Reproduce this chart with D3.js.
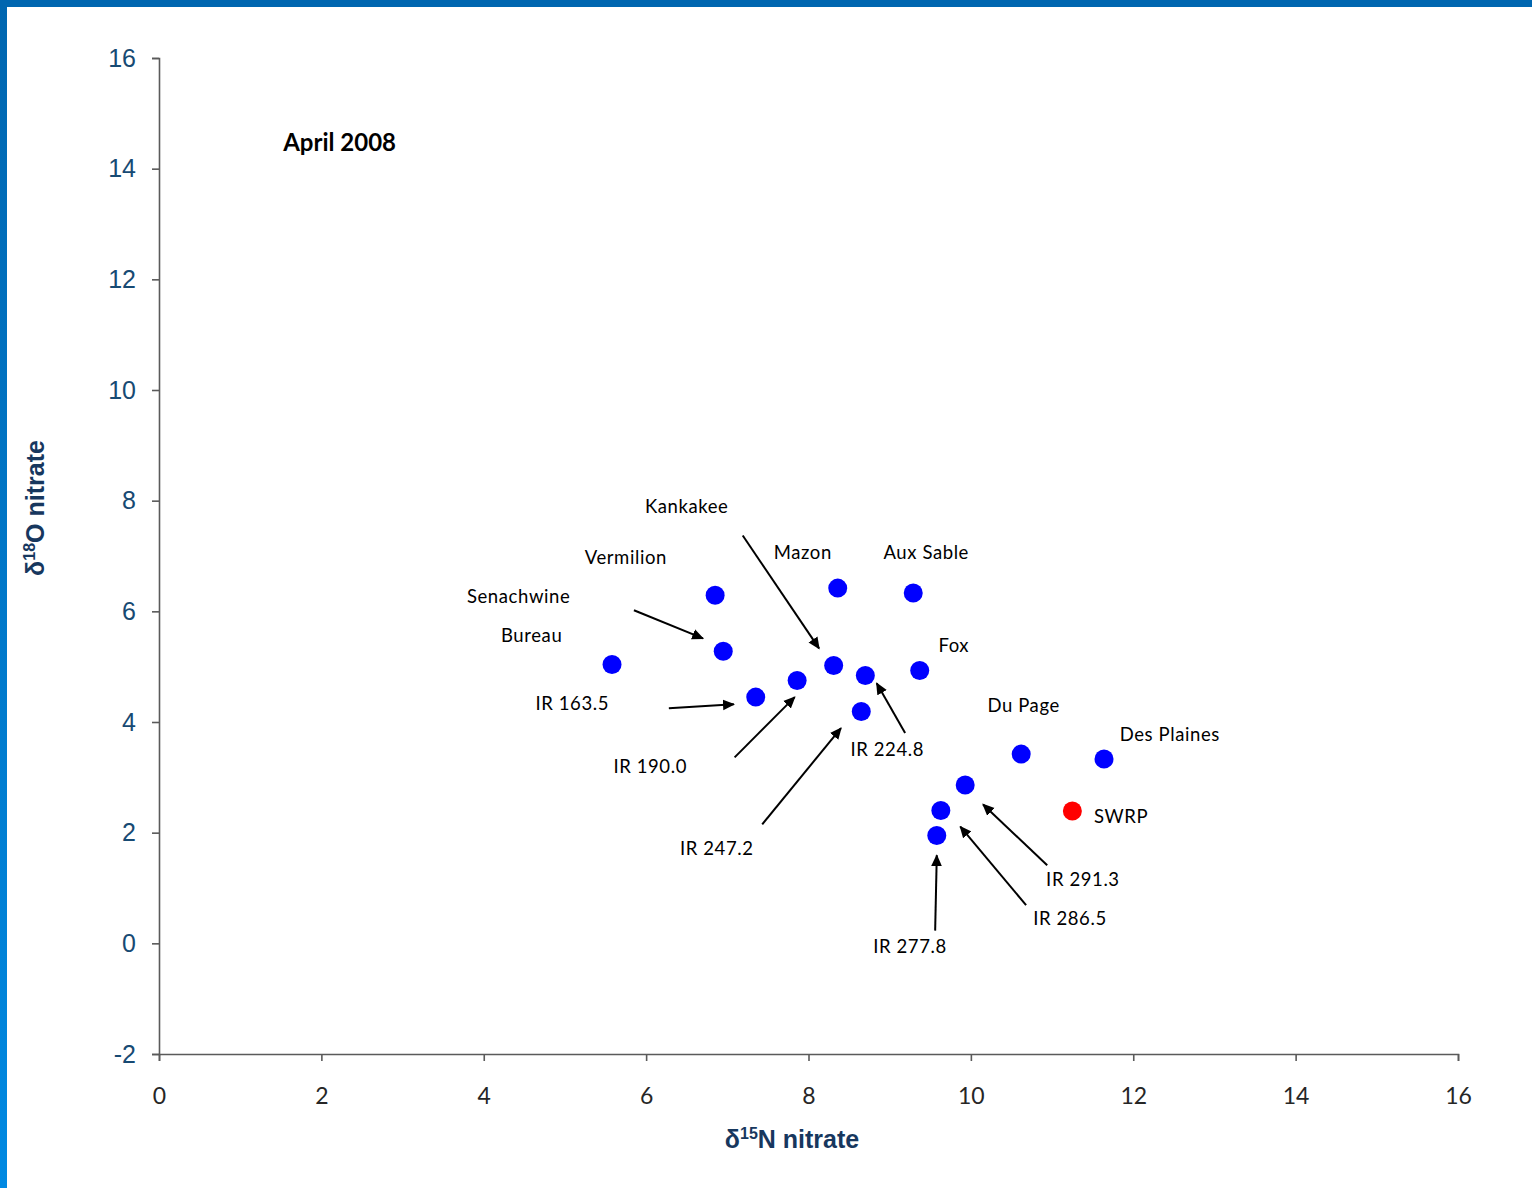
<!DOCTYPE html>
<html>
<head>
<meta charset="utf-8">
<script src="https://cdn.jsdelivr.net/npm/d3@7"></script>
<style>
  html, body { margin: 0; padding: 0; background: #fff; }
  svg { display: block; }
</style>
</head>
<body>
<svg id="chart" width="1532" height="1188"></svg>
<script>
// Nitrate isotope composition of Illinois River sites and tributaries, April 2008
const sites = ["Bureau", "Vermilion", "Senachwine", "IR 163.5", "IR 190.0", "Kankakee",
  "Mazon", "IR 224.8", "IR 247.2", "Aux Sable", "Fox", "Du Page", "Des Plaines",
  "SWRP", "IR 291.3", "IR 286.5", "IR 277.8"];
const d15N = [5.58, 6.85, 6.95, 7.35, 7.86, 8.31, 8.36, 8.70, 8.65, 9.29, 9.37, 10.62, 11.64,
  11.25, 9.93, 9.63, 9.58];
const d18O = [5.04, 6.29, 5.28, 4.45, 4.75, 5.02, 6.42, 4.84, 4.19, 6.33, 4.93, 3.42, 3.33,
  2.39, 2.86, 2.40, 1.95];
const siteType = ["stream", "stream", "stream", "river", "river", "stream", "stream", "river",
  "river", "stream", "stream", "stream", "stream", "effluent", "river", "river", "river"];

// Label anchors (data units) and callout arrows (tail -> head, data units)
const labelN = [4.59, 5.75, 4.43, 5.09, 6.05, 6.50, 7.93, 8.97, 6.87, 9.45, 9.79, 10.65, 12.45,
  11.85, 11.38, 11.22, 9.25];
const labelO = [5.58, 6.98, 6.27, 4.34, 3.20, 7.90, 7.08, 3.52, 1.72, 7.08, 5.39, 4.30, 3.78,
  2.30, 1.17, 0.45, -0.04];
const arrowTail = [null, null, [5.85, 6.02], [6.28, 4.25], [7.09, 3.36], [7.19, 7.37], null,
  [9.19, 3.80], [7.43, 2.15], null, null, null, null, null, [10.94, 1.41], [10.68, 0.69], [9.56, 0.23]];
const arrowHead = [null, null, [6.70, 5.51], [7.08, 4.32], [7.83, 4.45], [8.13, 5.33], null,
  [8.84, 4.70], [8.40, 3.89], null, null, null, null, null, [10.15, 2.51], [9.87, 2.11], [9.58, 1.59]];

const xTicks = [0, 2, 4, 6, 8, 10, 12, 14, 16];
const yTicks = [-2, 0, 2, 4, 6, 8, 10, 12, 14, 16];
const chartNote = "April 2008";

const svg = d3.select("#chart");
const W = 1532, H = 1188;

// Slide frame: blue bar across the top and a graded bar down the left edge
const defs = svg.append("defs");
const grad = defs.append("linearGradient").attr("id", "edgeGrad")
  .attr("x1", 0).attr("y1", 0).attr("x2", 0).attr("y2", 1);
grad.append("stop").attr("offset", "0%").attr("stop-color", "#0066b0");
grad.append("stop").attr("offset", "100%").attr("stop-color", "#0089e2");
svg.append("rect").attr("x", 0).attr("y", 0).attr("width", 7).attr("height", H).attr("fill", "url(#edgeGrad)");
svg.append("rect").attr("x", 0).attr("y", 0).attr("width", W).attr("height", 7).attr("fill", "#0066b0");

const x = d3.scaleLinear().domain([0, 16]).range([159, 1458]);
const y = d3.scaleLinear().domain([-2, 16]).range([1054, 58]);

const axisColor = "#5a5a5a";
const plainInt = d => String(d); // hyphen-minus for negatives

// X axis
const gx = svg.append("g").attr("transform", `translate(0,${y(-2)})`)
  .call(d3.axisBottom(x).tickValues(xTicks).tickSize(7).tickPadding(27).tickFormat(plainInt));
gx.select(".domain").attr("stroke", axisColor).attr("stroke-width", 1.6);
gx.selectAll(".tick line").attr("stroke", axisColor).attr("stroke-width", 1.6);
gx.selectAll(".tick text").attr("font-family", "Lato, 'Open Sans', sans-serif")
  .attr("font-size", 23).attr("fill", "#262626");

// Y axis
const gy = svg.append("g").attr("transform", `translate(${x(0)},0)`)
  .call(d3.axisLeft(y).tickValues(yTicks).tickSize(7).tickPadding(16).tickFormat(plainInt));
gy.select(".domain").attr("stroke", axisColor).attr("stroke-width", 1.6);
gy.selectAll(".tick line").attr("stroke", axisColor).attr("stroke-width", 1.6);
gy.selectAll(".tick text").attr("font-family", "'Liberation Sans', Arial, sans-serif")
  .attr("font-size", 25).attr("fill", "#174a73");

// Axis titles
const titleColor = "#17375e";
const xt = svg.append("text").attr("x", 792).attr("y", 1148)
  .attr("text-anchor", "middle").attr("font-family", "'Liberation Sans', Arial, sans-serif")
  .attr("font-weight", "bold").attr("font-size", 25).attr("fill", titleColor);
xt.append("tspan").text("δ");
xt.append("tspan").attr("font-size", 16).attr("dy", -9).text("15");
xt.append("tspan").attr("dy", 9).text("N nitrate");

const yt = svg.append("text").attr("transform", "translate(44,508) rotate(-90)")
  .attr("text-anchor", "middle").attr("font-family", "'Liberation Sans', Arial, sans-serif")
  .attr("font-weight", "bold").attr("font-size", 25).attr("fill", titleColor);
yt.append("tspan").text("δ");
yt.append("tspan").attr("font-size", 16).attr("dy", -9).text("18");
yt.append("tspan").attr("dy", 9).text("O nitrate");

// Date note
svg.append("text").attr("x", x(1.53)).attr("y", y(14.5)).attr("dominant-baseline", "central")
  .attr("font-family", "Lato, 'Open Sans', sans-serif").attr("font-weight", "bold")
  .attr("font-size", 24).attr("fill", "#000").text(chartNote);

// Arrow marker
defs.append("marker").attr("id", "arrowHead").attr("viewBox", "0 0 10 10")
  .attr("refX", 9).attr("refY", 5).attr("markerWidth", 6).attr("markerHeight", 6)
  .attr("markerUnits", "strokeWidth").attr("orient", "auto")
  .append("path").attr("d", "M0,0.5 L10,5 L0,9.5 Z").attr("fill", "#000");

const rows = sites.map((s, i) => ({
  name: s, n: d15N[i], o: d18O[i], type: siteType[i],
  ln: labelN[i], lo: labelO[i], tail: arrowTail[i], head: arrowHead[i]
}));

// Points
svg.append("g").selectAll("circle").data(rows).join("circle")
  .attr("cx", d => x(d.n)).attr("cy", d => y(d.o)).attr("r", 9.5)
  .attr("fill", d => d.type === "effluent" ? "#ff0000" : "#0000ff");

// Callout arrows
svg.append("g").selectAll("line").data(rows.filter(d => d.tail)).join("line")
  .attr("x1", d => x(d.tail[0])).attr("y1", d => y(d.tail[1]))
  .attr("x2", d => x(d.head[0])).attr("y2", d => y(d.head[1]))
  .attr("stroke", "#000").attr("stroke-width", 2).attr("marker-end", "url(#arrowHead)");

// Site labels
svg.append("g").selectAll("text").data(rows).join("text")
  .attr("x", d => x(d.ln)).attr("y", d => y(d.lo))
  .attr("text-anchor", "middle").attr("dominant-baseline", "central")
  .attr("font-family", "Lato, 'Open Sans', sans-serif").attr("font-size", 18.5)
  .attr("letter-spacing", 0.6).attr("fill", "#000")
  .text(d => d.name);
</script>
</body>
</html>
